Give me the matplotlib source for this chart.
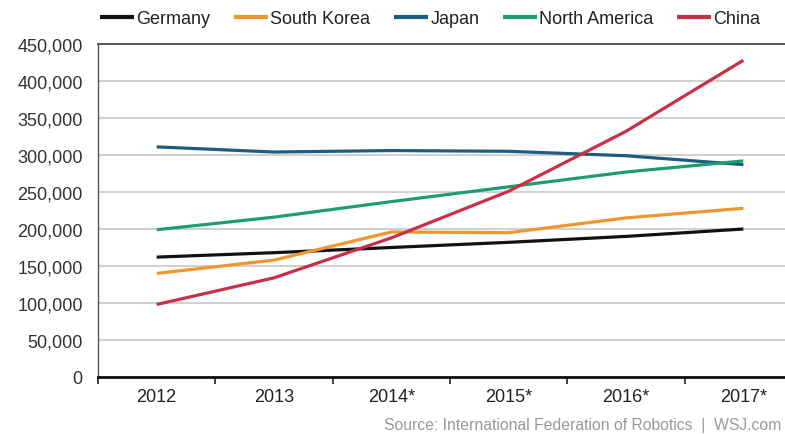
import matplotlib
matplotlib.use("Agg")
import matplotlib.pyplot as plt
from matplotlib.ticker import FuncFormatter, FixedLocator

plt.rcParams['font.family'] = ['Liberation Sans', 'DejaVu Sans']

years = ["2012", "2013", "2014*", "2015*", "2016*", "2017*"]
germany = [162000, 168000, 175000, 182000, 190000, 200000]
south_korea = [140000, 158000, 196000, 195000, 215000, 228000]
japan = [311000, 304000, 306000, 305000, 299000, 287000]
north_america = [199000, 216000, 237000, 257000, 277000, 292000]
china = [98000, 134000, 188000, 251000, 332000, 428000]

series = [
    ("Germany", germany, "#111111"),
    ("South Korea", south_korea, "#F0962E"),
    ("Japan", japan, "#1F5C82"),
    ("North America", north_america, "#1E9E6E"),
    ("China", china, "#C8304A"),
]

fig = plt.figure(figsize=(7.85, 4.35), dpi=100)
ax = fig.add_axes([98/785, 57/435, 704/785, 333/435])

x = list(range(len(years)))
for name, vals, col in series:
    ax.plot(x, vals, color=col, lw=2.3, label=name, solid_capstyle='butt')

ax.set_xlim(-0.5, len(years) - 0.5)
ax.set_ylim(0, 450000)
ax.set_yticks(range(0, 450001, 50000))
ax.yaxis.set_major_formatter(FuncFormatter(lambda v, p: f"{int(v):,}"))
ax.set_xticks(x)
ax.set_xticklabels(years)
ax.xaxis.set_minor_locator(FixedLocator([i - 0.5 for i in range(len(years) + 1)]))
ax.tick_params(axis='x', which='major', length=0, labelsize=13, pad=8, colors='#222222')
ax.tick_params(axis='x', which='minor', length=5, width=1.2, color='#222222')
ax.tick_params(axis='y', length=0, labelsize=13, pad=11, colors='#333333')

ax.grid(axis='y', color='#C8C8C8', lw=1.2)
ax.set_axisbelow(True)
ax.spines['right'].set_visible(False)
ax.spines['top'].set_color('#555555')
ax.spines['top'].set_linewidth(1.4)
ax.spines['left'].set_color('#555555')
ax.spines['left'].set_linewidth(1.0)
ax.spines['bottom'].set_color('#111111')
ax.spines['bottom'].set_linewidth(2.0)

leg = fig.legend(loc='center', bbox_to_anchor=(0.548, 1 - 20/435), ncol=5, frameon=False,
                 fontsize=13, handlelength=1.9, handletextpad=0.12, columnspacing=1.3,
                 borderaxespad=0, borderpad=0)
for t in leg.get_texts():
    t.set_color('#222222')
for h in leg.get_lines():
    h.set_linewidth(3.0)

fig.text(0.995, 0.005, "Source: International Federation of Robotics  |  WSJ.com",
         ha='right', va='bottom', fontsize=11.3, color='#999999')

fig.savefig("out.png", dpi=100)
